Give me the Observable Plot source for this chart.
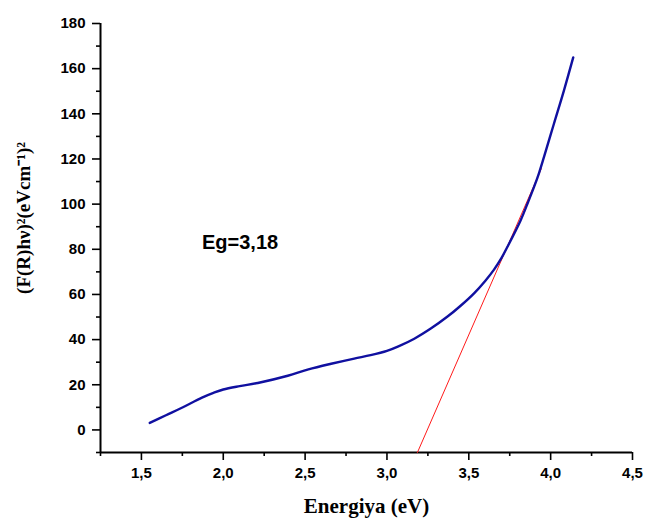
<!DOCTYPE html>
<html>
<head>
<meta charset="utf-8">
<script src="https://cdn.jsdelivr.net/npm/d3@7"></script>
<script src="https://cdn.jsdelivr.net/npm/@observablehq/plot@0.6"></script>
<style>
  html, body { margin: 0; padding: 0; background: #fff; }
  svg text { font-weight: bold; }
</style>
</head>
<body>
<div id="chart"></div>
<script>
// Measured curve: energy (eV) vs (F(R)hν)²
const energy = [1.551, 1.65, 1.744, 1.87, 1.94, 2.0, 2.1, 2.211, 2.394, 2.52, 2.659, 2.8, 2.9, 3.0, 3.07, 3.167, 3.27, 3.37, 3.45, 3.532, 3.6, 3.654, 3.7, 3.736, 3.817, 3.86, 3.898, 3.93, 3.959, 4.02, 4.081, 4.138];
const signal = [3.1, 6.5, 9.7, 14.3, 16.4, 17.9, 19.4, 20.8, 24.0, 26.8, 29.3, 31.6, 33.1, 35.0, 37.0, 40.4, 45.0, 50.2, 55.0, 60.5, 66.0, 71.0, 76.2, 81.1, 92.9, 100.5, 107.5, 114.0, 120.8, 135.6, 150.3, 165.0];
// Linear fit (Tauc extrapolation)
const fitX = [3.186, 3.943];
const fitY = [-10, 115.7];
// Axes
const xDomain = [1.25, 4.5];
const yDomain = [-10, 180];
const xMajor = [1.5, 2.0, 2.5, 3.0, 3.5, 4.0, 4.5];
const xMinor = [1.25, 1.75, 2.25, 2.75, 3.25, 3.75, 4.25];
const yMajor = [0, 20, 40, 60, 80, 100, 120, 140, 160, 180];
const yMinor = [-10, 10, 30, 50, 70, 90, 110, 130, 150, 170];
const annotation = "Eg=3,18";
const annotationPos = {x: 1.87, y: 83};
const xTitle = "Energiya (eV)";
const yTitle = "(F(R)hν)²(eVcm⁻¹)²";

const curve = energy.map((e, i) => ({x: e, y: signal[i]}));
const fit = fitX.map((e, i) => ({x: e, y: fitY[i]}));
const comma = d => d3.format(".1f")(d).replace(".", ",");
const sans = "'Liberation Sans', Arial, sans-serif";
const serif = "'Liberation Serif', 'Times New Roman', serif";

const plot = Plot.plot({
  width: 646,
  height: 520,
  marginLeft: 100,
  marginRight: 14,
  marginTop: 23,
  marginBottom: 68,
  style: {fontFamily: sans, fontSize: "15px", fontWeight: "bold", color: "#000", background: "#fff"},
  x: {domain: xDomain},
  y: {domain: yDomain},
  marks: [
    Plot.axisX({ticks: xMajor, tickSize: 8, tickPadding: 7, tickFormat: comma, label: null, strokeWidth: 1.6, fontSize: 15, fontWeight: "bold", fontFamily: sans}),
    Plot.axisX({ticks: xMinor, tickSize: 4, tickFormat: () => "", label: null, strokeWidth: 1.6}),
    Plot.axisY({ticks: yMajor, tickSize: 8, tickPadding: 7, tickFormat: d => String(d), label: null, strokeWidth: 1.6, fontSize: 15, fontWeight: "bold", fontFamily: sans}),
    Plot.axisY({ticks: yMinor, tickSize: 4, tickFormat: () => "", label: null, strokeWidth: 1.6}),
    Plot.ruleX([xDomain[0]], {stroke: "#000", strokeWidth: 2}),
    Plot.ruleY([yDomain[0]], {stroke: "#000", strokeWidth: 2}),
    Plot.line(fit, {x: "x", y: "y", stroke: "#ff1a1a", strokeWidth: 1}),
    Plot.line(curve, {x: "x", y: "y", stroke: "#1010a0", strokeWidth: 2.4, curve: "catmull-rom"}),
    Plot.text([annotation], {x: annotationPos.x, y: annotationPos.y, text: d => d, textAnchor: "start", fontSize: 20, fontWeight: "bold", fill: "#000", fontFamily: sans}),
    Plot.text([xTitle], {frameAnchor: "bottom", dy: 60, text: d => d, textAnchor: "middle", fontFamily: serif, fontSize: 21, fontWeight: "bold", fill: "#000"}),
    Plot.text([yTitle], {frameAnchor: "left", dx: -77, dy: -20, rotate: -90, text: d => d, textAnchor: "middle", fontFamily: serif, fontSize: 19, fontWeight: "bold", fill: "#000"})
  ]
});
document.getElementById("chart").appendChild(plot);
</script>
</body>
</html>
